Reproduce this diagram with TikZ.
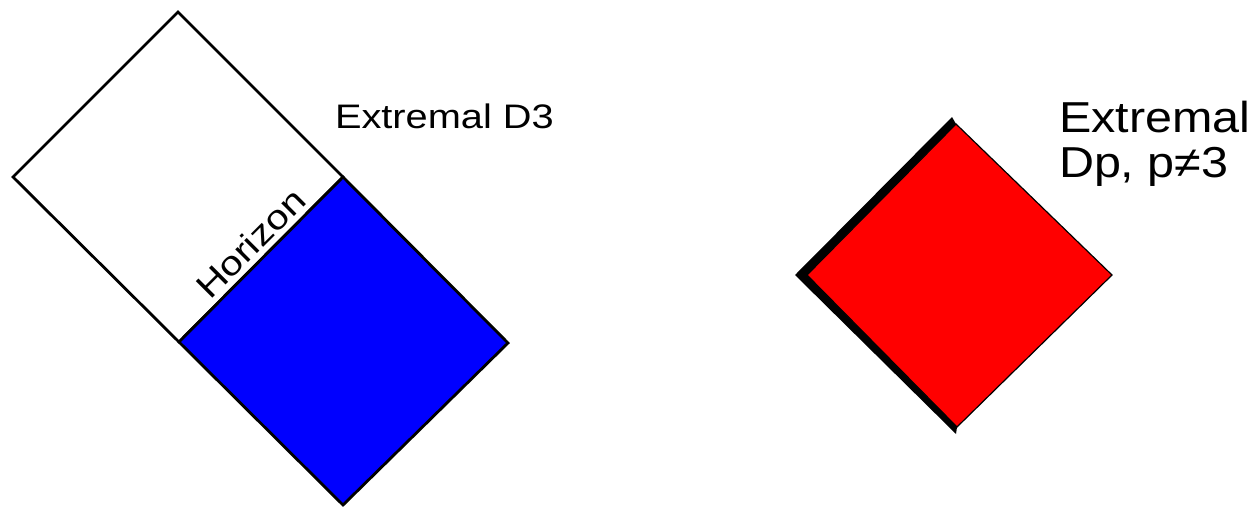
\documentclass[tikz,border=0pt]{standalone}
\usepackage{fontspec}
\usepackage{graphicx}
\setmainfont{Liberation Sans}
\tikzset{
  edge/.style={draw=black, line width=2.8pt, line join=miter},
  lbl/.style={inner sep=0pt, outer sep=0pt, font=\fontsize{34}{40}\selectfont},
  biglbl/.style={inner sep=0pt, outer sep=0pt, font=\fontsize{43.3}{45}\selectfont, anchor=base west},
}
\begin{document}
\begin{tikzpicture}[x=1pt, y=-1pt]
\useasboundingbox (0,0) rectangle (1258,506);

% outer region above the horizon (white)
\coordinate (wt) at (178,12);
\coordinate (wl) at (13,177);
\coordinate (hl) at (179,342);
\coordinate (hr) at (343,177);
% interior region below the horizon (blue)
\coordinate (bb) at (343,505);
\coordinate (br) at (508,343);

\path[edge, fill=white] (wt) -- (wl) -- (hl) -- (hr) -- cycle;
\path[edge, fill=blue] (hr) -- (hl) -- (bb) -- (br) -- cycle;

\node[lbl, anchor=base, rotate=45] (horizon) at (259,252) {\scalebox{1.18}[1]{Horizon}};
\node[lbl, anchor=base west] (extA) at (335,128) {\scalebox{1.17}[1]{Extremal D3}};

% red diamond with dark shading along its left edges
\coordinate (rt) at (956,124);
\coordinate (rl) at (807,275);
\coordinate (rb) at (957,427);
\coordinate (rr) at (1112,275);
\coordinate (st) at (952,117);
\coordinate (sl) at (795,275);
\coordinate (sb) at (956,434);

\fill[black] (st) -- (sl) -- (sb) -- (rb) -- (rl) -- (rt) -- cycle;
\path[draw=black, line width=1.2pt, fill=red] (rt) -- (rl) -- (rb) -- (rr) -- cycle;

\node[biglbl] (extB1) at (1059,132) {\scalebox{1.12}[1]{Extremal}};
\node[biglbl] (extB2) at (1059,177) {\scalebox{1.12}[1]{Dp, p≠3}};
\end{tikzpicture}
\end{document}
